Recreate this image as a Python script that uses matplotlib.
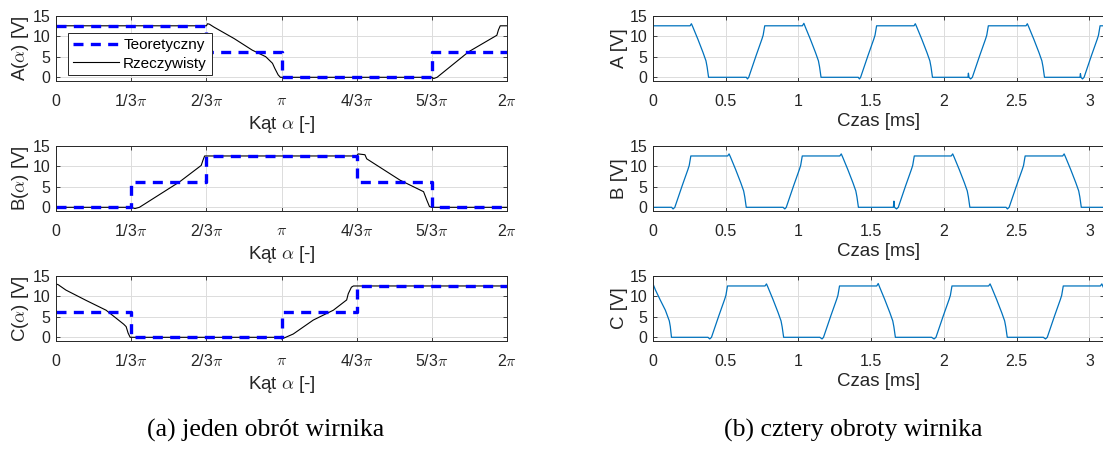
import numpy as np
import matplotlib
matplotlib.use("Agg")
import matplotlib.pyplot as plt

# --- data ---
# (a) one revolution, angle given in units of pi
theo_edges = [0, 1/3, 2/3, 1, 4/3, 5/3, 2]
A_theo = [12.5, 12.5, 6.25, 0, 0, 6.25, 6.25]
B_theo = [0, 6.25, 12.5, 12.5, 6.25, 0, 0]
C_theo = [6.25, 0, 0, 6.25, 12.5, 12.5, 12.5]

A_real_x = [0, 0.667, 0.672, 0.68, 0.70, 0.79, 0.87, 0.93, 0.96, 0.97, 0.985, 0.995,
            1.667, 1.675, 1.69, 1.83, 1.955, 1.962, 1.97, 2.0]
A_real_y = [12.5, 12.5, 13.0, 12.9, 12.2, 9.4, 6.6, 5.0, 3.4, 2.2, 0.6, 0.0,
            0.0, -0.3, 0.0, 6.2, 10.2, 11.5, 12.5, 12.5]

B_real_x = [0, 0.333, 0.35, 0.37, 0.548, 0.644, 0.652, 0.659, 1.333, 1.34, 1.37,
            1.378, 1.526, 1.63, 1.644, 1.656, 1.665, 2.0]
B_real_y = [0.0, 0.0, -0.3, 0.0, 6.2, 10.2, 11.5, 12.5, 12.5, 13.0, 12.8,
            11.8, 6.6, 3.8, 1.8, 0.2, 0.0, 0.0]

C_real_x = [0, 0.01, 0.044, 0.133, 0.222, 0.30, 0.311, 0.32, 0.329, 0.99, 1.0, 1.01,
            1.052, 1.141, 1.23, 1.289, 1.296, 1.31, 1.319, 2.0]
C_real_y = [13.0, 12.8, 11.5, 9.0, 6.6, 3.2, 2.6, 1.0, 0.0, 0.0, -0.4, -0.2,
            0.8, 4.2, 6.6, 9.1, 10.6, 12.2, 12.5, 12.5]

# (b) four revolutions, time in ms
A_t = [0.000, 0.255, 0.264, 0.274, 0.309, 0.344, 0.364, 0.372, 0.382,
       0.642, 0.649, 0.658, 0.708, 0.748, 0.757, 0.768,
       1.027, 1.037, 1.047, 1.082, 1.117, 1.137, 1.145, 1.155,
       1.411, 1.419, 1.427, 1.477, 1.517, 1.526, 1.537,
       1.794, 1.803, 1.813, 1.848, 1.883, 1.903, 1.911, 1.921,
       2.165, 2.168, 2.172, 2.183, 2.195, 2.245, 2.285, 2.294, 2.305,
       2.564, 2.573, 2.583, 2.618, 2.653, 2.673, 2.681, 2.691,
       2.935, 2.938, 2.942, 2.952, 2.963, 3.013, 3.053, 3.062, 3.073, 3.12]
A_v = [12.5, 12.5, 13.0, 12.2, 9.2, 6.0, 4.0, 2.5, 0.0,
       0.0, -0.4, 0.0, 5.2, 9.2, 10.2, 12.5,
       12.5, 13.1, 12.2, 9.2, 6.0, 4.0, 2.5, 0.0,
       0.0, -0.4, 0.0, 5.2, 9.2, 10.2, 12.5,
       12.5, 13.0, 12.2, 9.2, 6.0, 4.0, 2.5, 0.0,
       0.0, 1.0, 0.0, -0.4, 0.0, 5.2, 9.2, 10.2, 12.5,
       12.5, 13.0, 12.2, 9.2, 6.0, 4.0, 2.5, 0.0,
       0.0, 0.9, 0.0, -0.4, 0.0, 5.2, 9.2, 10.2, 12.5, 12.5]

B_t = [0.000, 0.128, 0.138, 0.150, 0.200, 0.240, 0.249, 0.260,
       0.513, 0.523, 0.533, 0.568, 0.603, 0.623, 0.631, 0.641,
       0.894, 0.906, 0.916, 0.966, 1.006, 1.015, 1.026,
       1.284, 1.294, 1.304, 1.339, 1.374, 1.394, 1.402, 1.412,
       1.652, 1.656, 1.660, 1.674, 1.686, 1.736, 1.776, 1.785, 1.796,
       2.050, 2.060, 2.070, 2.105, 2.140, 2.160, 2.168, 2.178,
       2.427, 2.436, 2.448, 2.498, 2.538, 2.547, 2.558,
       2.816, 2.826, 2.836, 2.871, 2.906, 2.926, 2.934, 2.944, 3.12]
B_v = [0.0, 0.0, -0.4, 0.0, 5.2, 9.2, 10.2, 12.5,
       12.5, 13.0, 12.2, 9.2, 6.0, 4.0, 2.5, 0.0,
       0.0, -0.4, 0.0, 5.2, 9.2, 10.2, 12.5,
       12.5, 13.0, 12.2, 9.2, 6.0, 4.0, 2.5, 0.0,
       0.0, 1.5, 0.0, -0.4, 0.0, 5.2, 9.2, 10.2, 12.5,
       12.5, 13.0, 12.2, 9.2, 6.0, 4.0, 2.5, 0.0,
       0.0, -0.4, 0.0, 5.2, 9.2, 10.2, 12.5,
       12.5, 13.0, 12.2, 9.2, 6.0, 4.0, 2.5, 0.0, 0.0]

C_t = [0.000, 0.017, 0.051, 0.085, 0.112, 0.119, 0.127,
       0.378, 0.390, 0.402, 0.452, 0.492, 0.501, 0.512,
       0.770, 0.780, 0.790, 0.825, 0.860, 0.880, 0.888, 0.898,
       1.147, 1.162, 1.172, 1.222, 1.262, 1.271, 1.282,
       1.538, 1.548, 1.558, 1.593, 1.628, 1.648, 1.656, 1.666,
       1.915, 1.932, 1.945, 1.995, 2.035, 2.044, 2.055,
       2.307, 2.317, 2.327, 2.362, 2.397, 2.417, 2.425, 2.435,
       2.683, 2.698, 2.710, 2.760, 2.800, 2.809, 2.820,
       3.075, 3.085, 3.095, 3.12]
C_v = [13.0, 11.5, 9.0, 6.6, 4.0, 2.6, 0.0,
       0.0, -0.4, 0.0, 5.2, 9.2, 10.2, 12.5,
       12.5, 13.0, 12.2, 9.2, 6.0, 4.0, 2.5, 0.0,
       0.0, -0.4, 0.0, 5.2, 9.2, 10.2, 12.5,
       12.5, 13.1, 12.2, 9.2, 6.0, 4.0, 2.5, 0.0,
       0.0, -0.4, 0.0, 5.2, 9.2, 10.2, 12.5,
       12.5, 13.0, 12.2, 9.2, 6.0, 4.0, 2.5, 0.0,
       0.0, -0.4, 0.0, 5.2, 9.2, 10.2, 12.5,
       12.5, 13.0, 12.2, 10.5]

angle_ticks = [0, 1/3, 2/3, 1, 4/3, 5/3, 2]
angle_labels = ['0', r'1/3$\pi$', r'2/3$\pi$', r'$\pi$', r'4/3$\pi$', r'5/3$\pi$', r'2$\pi$']
time_ticks = [0, 0.5, 1, 1.5, 2, 2.5, 3]
time_labels = ['0', '0.5', '1', '1.5', '2', '2.5', '3']

# --- style ---
plt.rcParams['font.family'] = ['Liberation Sans', 'DejaVu Sans']
plt.rcParams['mathtext.fontset'] = 'cm'
dark = '#262626'


def style(ax):
    ax.set_ylim(-0.9, 15)
    ax.set_yticks([0, 5, 10, 15])
    ax.grid(True, color='#dcdcdc', linewidth=0.7)
    ax.set_axisbelow(True)
    for s in ax.spines.values():
        s.set_color(dark)
        s.set_linewidth(0.7)
    ax.tick_params(direction='in', length=3, width=0.6, colors=dark,
                   labelsize=11.5, top=True, right=True)
    ax.tick_params(axis='x', pad=9)
    ax.tick_params(axis='y', pad=4)


fig = plt.figure(figsize=(11.03, 4.68), dpi=100)
W, H = 1103, 468
rows = [(15.5, 81), (145.7, 211), (275.7, 341)]
left_x, right_x, ax_w = 56, 653, 451

real_left = [(A_real_x, A_real_y), (B_real_x, B_real_y), (C_real_x, C_real_y)]
theo_left = [A_theo, B_theo, C_theo]
right_data = [(A_t, A_v), (B_t, B_v), (C_t, C_v)]
names = ['A', 'B', 'C']

for i, (top, bot) in enumerate(rows):
    # left panel
    ax = fig.add_axes([left_x / W, 1 - bot / H, ax_w / W, (bot - top) / H])
    rx, ry = real_left[i]
    l_real, = ax.plot(np.array(rx) * np.pi, ry, color='black', linewidth=0.8)
    l_theo, = ax.plot(np.array(theo_edges) * np.pi, theo_left[i], color='#0000ff',
                      linewidth=2.4, linestyle=(0, (3, 2.2)), drawstyle='steps-post')
    ax.set_xlim(0, 2 * np.pi)
    ax.set_xticks(np.array(angle_ticks) * np.pi)
    ax.set_xticklabels(angle_labels)
    ax.set_xlabel(r'Kąt $\alpha$ [-]', fontsize=13.5, color=dark, labelpad=3)
    ax.set_ylabel(names[i] + r'($\alpha$) [V]', fontsize=13.5, color=dark, labelpad=1)
    style(ax)
    if i == 0:
        leg = ax.legend([l_theo, l_real], ['Teoretyczny', 'Rzeczywisty'],
                        loc='lower left', bbox_to_anchor=(0.027, 0.09),
                        fontsize=11, frameon=True, fancybox=False,
                        borderaxespad=0, handlelength=3.0, borderpad=0.3,
                        labelspacing=0.3, handletextpad=0.3)
        leg.get_frame().set_edgecolor(dark)
        leg.get_frame().set_linewidth(0.7)
        leg.get_frame().set_alpha(1)

    # right panel
    ax2 = fig.add_axes([right_x / W, 1 - bot / H, ax_w / W, (bot - top) / H])
    t, v = right_data[i]
    ax2.plot(t, v, color='#0072bd', linewidth=0.9)
    ax2.set_xlim(0, 3.1)
    ax2.set_xticks(time_ticks)
    ax2.set_xticklabels(time_labels)
    ax2.set_xlabel('Czas [ms]', fontsize=13.5, color=dark, labelpad=3)
    ax2.set_ylabel(names[i] + ' [V]', fontsize=13.5, color=dark, labelpad=1)
    style(ax2)

fig.text(266 / W, 1 - 430 / H, '(a) jeden obrót wirnika', ha='center', va='center',
         fontsize=18.5, family='Liberation Serif')
fig.text(853 / W, 1 - 430 / H, '(b) cztery obroty wirnika', ha='center', va='center',
         fontsize=18.5, family='Liberation Serif')

fig.savefig('out.png', dpi=100)
